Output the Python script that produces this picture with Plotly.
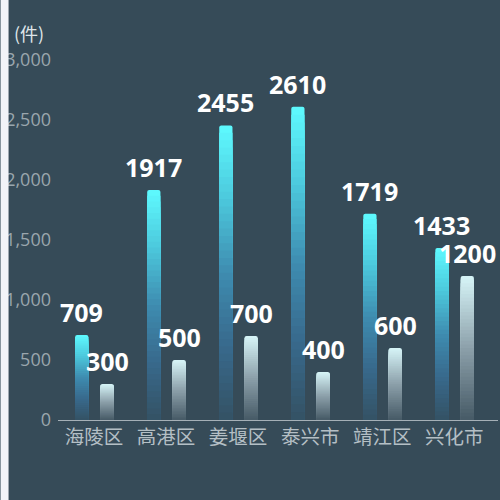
import plotly.graph_objects as go
from plotly.colors import sample_colorscale

# data
categories = ["海陵区", "高港区", "姜堰区", "泰兴市", "靖江区", "兴化市"]
series_a = [709, 1917, 2455, 2610, 1719, 1433]
series_b = [300, 500, 700, 400, 600, 1200]
y_ticks = [0, 500, 1000, 1500, 2000, 2500, 3000]
unit_label = "(件)"

# styling
BG = "#364b58"
STRIP = "#f2f4f8"
FONT = "Open Sans, Noto Sans CJK SC"
CJK = "Noto Sans CJK SC"
# opaque gradients (bottom -> top), already blended on the background
SCALE_A = [[0, "rgb(52,82,100)"], [0.25, "rgb(56,105,140)"], [0.5, "rgb(62,140,176)"],
           [0.75, "rgb(76,200,220)"], [1, "rgb(94,250,255)"]]
SCALE_B = [[0, "rgb(70,90,102)"], [0.5, "rgb(140,160,170)"], [1, "rgb(215,245,248)"]]
LAYERS = 40
BAR_W = 0.184
OFFSETS = (-0.262, 0.089)

M_L, M_R, M_T, M_B = 57.5, 2, 59.7, 79.7
plot_w = 500 - M_L - M_R
plot_h = 500 - M_T - M_B
px_per_cat = plot_w / len(categories)

fig = go.Figure()

# each bar is a pile of overlapping shorter bars, to fake a vertical gradient
for values, scale, off in ((series_a, SCALE_A, OFFSETS[0]), (series_b, SCALE_B, OFFSETS[1])):
    for k in range(LAYERS):
        frac = 1 - k / LAYERS
        color = sample_colorscale(scale, [max(frac - 0.5 / LAYERS, 0)])[0]
        marker = dict(color=color, line=dict(width=0))
        if k == 0:
            marker["cornerradius"] = 2
        fig.add_bar(x=categories, y=[v * frac for v in values], width=BAR_W, offset=off,
                    marker=marker, hoverinfo="skip", showlegend=False)

# value labels above the bars
for values, off in ((series_a, OFFSETS[0]), (series_b, OFFSETS[1])):
    shift = (off + BAR_W / 2) * px_per_cat
    for cat, v in zip(categories, values):
        fig.add_annotation(x=cat, y=v, text="<b>%d</b>" % v, showarrow=False,
                           xshift=shift, yshift=4, yanchor="bottom",
                           font=dict(family=FONT, size=25, color="#ffffff"))

fig.add_annotation(xref="paper", yref="paper", x=(11 - M_L) / plot_w, y=(500 - M_B - 33) / plot_h,
                   xanchor="left", yanchor="middle", text=unit_label, showarrow=False,
                   font=dict(family=CJK, size=18, color="#dfe5e8"))

# light strip on the left edge (the chart is cut off there)
fig.add_shape(type="rect", xref="paper", yref="paper", layer="above",
              x0=-M_L / plot_w, x1=(8 - M_L) / plot_w, y0=-1, y1=2,
              fillcolor=STRIP, line=dict(width=0))

fig.update_layout(
    width=500, height=500,
    margin=dict(l=M_L, r=M_R, t=M_T, b=M_B),
    paper_bgcolor=BG, plot_bgcolor=BG,
    barmode="overlay",
    showlegend=False,
    xaxis=dict(showgrid=False, zeroline=False, showline=True, linecolor="#a5b0b7", linewidth=1,
               ticks="", tickfont=dict(family=CJK, size=19.5, color="#b4bfc5"), fixedrange=True),
    yaxis=dict(range=[0, 3000], tickvals=y_ticks, tickformat=",d", showgrid=False, zeroline=False,
               showline=False, ticks="", ticklabelstandoff=6,
               tickfont=dict(family=FONT, size=18, color="#9aa6ad"), fixedrange=True),
)

fig.write_html("out.html", config={"displayModeBar": False},
               post_script="document.body.style.margin='0';document.body.style.overflow='hidden';")
